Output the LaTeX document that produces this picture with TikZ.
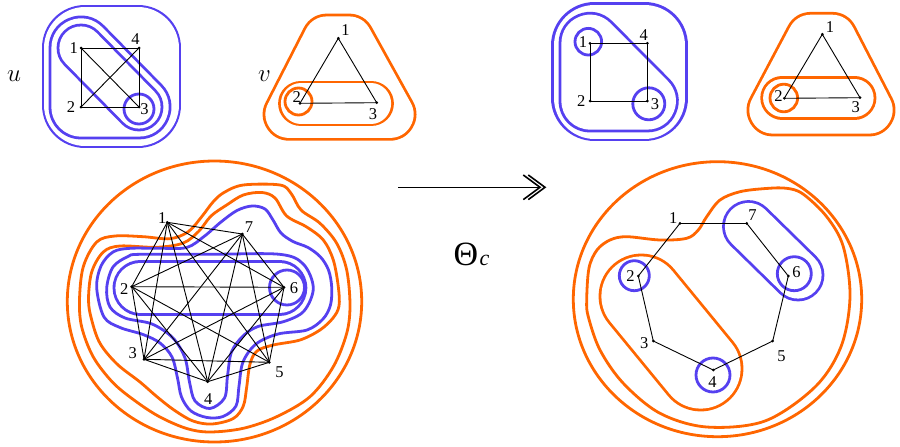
\RequirePackage{fix-cm}
\documentclass[tikz,border=0pt]{standalone}
\usepackage{fontspec}
\setmainfont{Liberation Serif}
\usetikzlibrary{calc}
\definecolor{cb}{RGB}{85,64,240}
\definecolor{co}{RGB}{255,102,0}
\newcommand\myoff[4]{%
  \path[draw=#1,fill=#1,line width=#2pt,line join=round,line cap=round] #4;
  \path[draw=white,fill=white,line width=#3pt,line join=round,line cap=round] #4;}
\tikzset{
  edge/.style={line width=0.9pt},
  vtx/.style={circle,fill=black,inner sep=0pt,minimum size=3pt},
  lab/.style={inner sep=0pt,font=\fontsize{16.5}{17}\selectfont},
  bc/.style={draw=cb,line width=2.8pt,fill=white},
  oc/.style={draw=co,line width=2.8pt,fill=white},
}
\begin{document}
\begin{tikzpicture}[x=1pt,y=-1pt]
\useasboundingbox (0,0) rectangle (900,447);
% ---------------- top-left u -----------------
\coordinate (u1) at (81,48); \coordinate (u4) at (139,48);
\coordinate (u2) at (81,107); \coordinate (u3) at (139,107);
\myoff{cb}{86.8}{81.2}{(85,48) -- (138,48) -- (138,105) -- (85,105) -- cycle}
\myoff{cb}{64.8}{59.2}{(u1) -- (u3) -- (u2) -- cycle}
\myoff{cb}{48.8}{43.2}{(u1) -- (u3)}
\draw[bc] (139,109) circle[radius=15pt];
\foreach \a/\b in {1/4,1/2,2/3,3/4,1/3,2/4} \draw[edge] (u\a) -- (u\b);
\foreach \a in {1,2,3,4} \node[vtx] (nu\a) at (u\a) {};
\node[lab] (lu1) at (73.7,48) {1};
\node[lab] (lu4) at (135.5,39) {4};
\node[lab] (lu2) at (71,107) {2};
\node[lab] (lu3) at (144.5,109.5) {3};
\node[inner sep=0pt,font=\fontsize{25}{25}\selectfont] (tu) at (14,76.3) {$u$};
% ---------------- top v -----------------
\coordinate (v1) at (338.3,38.3); \coordinate (v2) at (300,103.3); \coordinate (v3) at (376.7,102.7);
\myoff{co}{52.8}{47.2}{(327.1,40) -- (348.8,40) -- (390,114.3) -- (289.1,114.3) -- cycle}
\myoff{co}{45.8}{40.2}{(301,103.5) -- (371,103.5)}
\draw[oc] (298.5,101.5) circle[radius=13.5pt];
\foreach \a/\b in {1/2,2/3,3/1} \draw[edge] (v\a) -- (v\b);
\foreach \a in {1,2,3} \node[vtx] (nv\a) at (v\a) {};
\node[lab] (lv1) at (345.5,30.5) {1};
\node[lab] (lv2) at (296.7,97.5) {2};
\node[lab] (lv3) at (373,113.8) {3};
\node[inner sep=0pt,font=\fontsize{25}{25}\selectfont] (tv) at (264.5,75.8) {$v$};
% ---------------- top-right u' -----------------
\coordinate (a1) at (590,43.3); \coordinate (a4) at (647.3,43.3);
\coordinate (a2) at (590,101); \coordinate (a3) at (647.3,101);
\myoff{cb}{86.8}{81.2}{(594.7,45.3) -- (644.7,45.3) -- (644.7,98) -- (594.7,98) -- cycle}
\myoff{cb}{62.8}{57.2}{(a1) -- (a3) -- (a2) -- cycle}
\draw[bc] (588.3,41.7) circle[radius=13.3pt];
\draw[bc] (648.8,103.8) circle[radius=16pt];
\foreach \a/\b in {1/4,4/3,3/2,2/1} \draw[edge] (a\a) -- (a\b);
\foreach \a in {1,2,3,4} \node[vtx] (na\a) at (a\a) {};
\node[lab] (la1) at (583,42.5) {1};
\node[lab] (la4) at (643.8,34.7) {4};
\node[lab] (la2) at (581.3,101) {2};
\node[lab] (la3) at (655,104.5) {3};
% ---------------- top-right v' -----------------
\coordinate (w1) at (822.3,34.3); \coordinate (w2) at (784.3,98.3); \coordinate (w3) at (860,97.7);
\myoff{co}{52.8}{47.2}{(811,38.3) -- (832,38.3) -- (869,110) -- (773,110) -- cycle}
\myoff{co}{43.8}{38.2}{(782.2,97.8) -- (854.5,97.8)}
\draw[oc] (783.8,98) circle[radius=13.8pt];
\foreach \a/\b in {1/2,2/3,3/1} \draw[edge] (w\a) -- (w\b);
\foreach \a in {1,2,3} \node[vtx] (nw\a) at (w\a) {};
\node[lab] (lw1) at (830,27.5) {1};
\node[lab] (lw2) at (778.5,96) {2};
\node[lab] (lw3) at (855.8,107.5) {3};
% ---------------- arrow -----------------
\coordinate (as) at (398.3,187.3);
\coordinate (ae) at (545,187.3);
\coordinate (ae2) at (540,187.3);
\draw[line width=1.6pt] (as) -- (ae2);
\draw[line width=1.6pt] ($(ae)+(-16.7,-12.3)$) -- (ae) -- ($(ae)+(-16.7,12.3)$);
\draw[line width=1.6pt] ($(ae2)+(-16.7,-12.3)$) -- (ae2) -- ($(ae2)+(-16.7,12.3)$);
\node[inner sep=0pt,font=\fontsize{34}{34}\selectfont] (th) at (466,254.7) {Θ};
\node[inner sep=0pt,anchor=base west,font=\fontsize{22}{22}\selectfont] (thc) at ([xshift=1pt]th.base east) {\itshape c};
% ---------------- bottom-left K7 -----------------
\coordinate (k1) at (167.3,222.3); \coordinate (k7) at (242.3,234);
\coordinate (k2) at (131.7,286.7); \coordinate (k6) at (284,287.3);
\coordinate (k3) at (144,359.3); \coordinate (k5) at (269.3,362.3);
\coordinate (k4) at (207.7,381.7);
\draw[oc] (214.5,301.5) ellipse[x radius=147.2pt,y radius=140.5pt];
\draw[oc] plot[smooth cycle,tension=0.55] coordinates {(79.5,300) (83.3,266.7) (96.7,242) (115,236) (143.3,236.7) (170,238.7) (188.3,231.7) (201.7,216.7) (213,202) (224,192.5) (243.3,185) (280,185) (291,193.3) (301,210) (320,223.3) (336.7,243.3) (346.7,270) (350,305) (346.7,333.3) (333.3,366.7) (310,396.7) (276.7,416.7) (243.3,428.3) (210,432) (186.7,428.5) (160,417) (136.7,402) (113.3,383) (93.3,357) (81.7,327)};
\draw[oc] plot[smooth cycle,tension=0.55] coordinates {(88.5,300) (91.7,272) (103.3,252) (120,246) (156.7,247.3) (183.3,243) (199,231) (211,216) (226.7,205) (243.3,195) (262,192.5) (275,198) (286.7,216) (306.7,227) (323.3,240) (333.3,260) (338.3,286.7) (339,306) (333,318) (320,330) (300,340) (273.3,345) (257,351) (250,364) (246.7,387) (243.3,406) (233.3,418.5) (212,424) (193,421) (174,410) (156.7,396.5) (140,382) (117,364) (100,343.3) (91.7,320)};
\draw[bc] plot[smooth cycle,tension=0.55] coordinates {(96.7,288) (101,266) (113,252) (130,248.3) (160,248.3) (186.7,247.5) (204,236.5) (221,222) (237,210.5) (252,206) (265,209) (273,220) (281,233) (293,241.5) (308,247.5) (320.5,257) (328.5,270) (331.7,287) (330.5,305) (323,319) (307,330) (278,334) (256,344) (243,362) (239,386) (236,406) (223,416.5) (207,417.5) (191,411) (181.5,397) (177.5,378) (172,357) (160,343) (143,334.5) (120,327.5) (104,317)};
\draw[bc] plot[smooth cycle,tension=0.55] coordinates {(128,256.5) (140.4,254.3) (210,254.3) (279.6,254.3) (303.4,264.2) (313.3,288) (304,311) (284,321.5) (258,326.5) (243,336) (231.5,352) (227.5,376) (224.5,398) (210,408.5) (195,401) (189.5,382) (185,358) (173,338) (152,324) (125,318) (110,307) (106.7,288) (113,267)};
\myoff{cb}{55.8}{50.2}{(140.5,287.7) -- (279.4,287.7)}
\draw[bc] (287,287.5) circle[radius=17.5pt];
\foreach \a/\b in {1/2,1/3,1/4,1/5,1/6,1/7,2/3,2/4,2/5,2/6,2/7,3/4,3/5,3/6,3/7,4/5,4/6,4/7,5/6,5/7,6/7}
  \draw[edge] (k\a) -- (k\b);
\foreach \a in {1,...,7} \node[vtx] (nk\a) at (k\a) {};
\node[lab] (lk1) at (162.2,218) {1};
\node[lab] (lk7) at (249,226.7) {7};
\node[lab] (lk2) at (124.2,289) {2};
\node[lab] (lk6) at (294,288.5) {6};
\node[lab] (lk3) at (132.8,352.8) {3};
\node[lab] (lk5) at (279.5,372.5) {5};
\node[lab] (lk4) at (208.3,398.8) {4};
% ---------------- bottom-right C7 -----------------
\coordinate (c1) at (680,223.3); \coordinate (c7) at (746.7,223.3);
\coordinate (c2) at (638.3,276); \coordinate (c6) at (788.3,276);
\coordinate (c3) at (653.3,341); \coordinate (c5) at (772.7,341);
\coordinate (c4) at (713.3,370);
\draw[oc] (717.5,299.2) ellipse[x radius=144.2pt,y radius=137.5pt];
\draw[oc] plot[smooth cycle,tension=0.55] coordinates {(586.7,300) (589,268) (597,250) (610,240) (626.7,236.7) (660,240) (686.7,238.3) (698.3,230) (706.7,216.7) (720,200) (740,191.7) (766,188.5) (786.7,188.3) (803,194) (826.7,216.7) (843.3,246.7) (850,296.7) (841,346.7) (815,387) (765,421) (706.7,427) (660,413.3) (623.3,383.3) (600,350) (588.3,316.7)};
\myoff{co}{85.4}{79.8}{(641.3,296.3) -- (700.7,368.7)}
\myoff{cb}{52.8}{47.2}{(748.5,226.5) -- (798,275)}
\draw[bc] (634.3,275.7) circle[radius=15pt];
\draw[bc] (713,375) circle[radius=17pt];
\draw[bc] (794.3,273.7) circle[radius=17pt];
\foreach \a/\b in {1/7,7/6,6/5,5/4,4/3,3/2,2/1} \draw[edge] (c\a) -- (c\b);
\foreach \a in {1,...,7} \node[vtx] (nc\a) at (c\a) {};
\node[lab] (lc1) at (673.3,218.3) {1};
\node[lab] (lc7) at (752.5,215.3) {7};
\node[lab] (lc2) at (630.5,275.8) {2};
\node[lab] (lc6) at (796.5,272) {6};
\node[lab] (lc3) at (644.2,343.5) {3};
\node[lab] (lc5) at (781.5,355.8) {5};
\node[lab] (lc4) at (712.5,382.5) {4};
\end{tikzpicture}
\end{document}
